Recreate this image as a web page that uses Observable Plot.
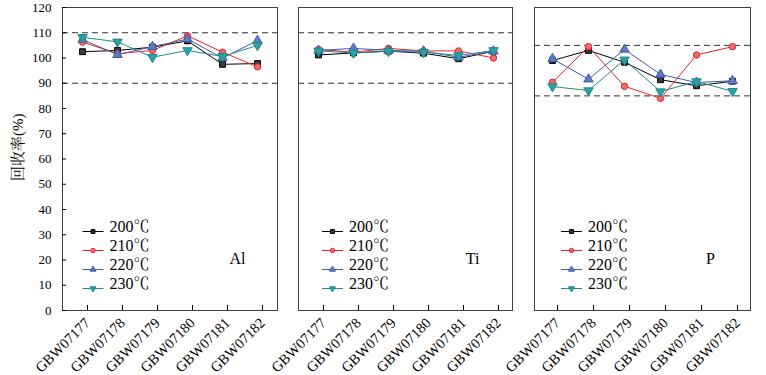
<!DOCTYPE html>
<html><head><meta charset="utf-8">
<script src="https://cdn.jsdelivr.net/npm/d3@7"></script>
<script src="https://cdn.jsdelivr.net/npm/@observablehq/plot@0.6"></script>
<style>
body{margin:0;background:#fff}
#c{position:relative;width:766px;height:375px;background:#fff}
#c svg{position:absolute;left:0;top:0;background:transparent !important;overflow:visible}
</style></head><body><div id="c"></div>
<script>
const samples = ["GBW07177","GBW07178","GBW07179","GBW07180","GBW07181","GBW07182"];
const temps = ["200℃","210℃","220℃","230℃"];
const yTicks = [0,10,20,30,40,50,60,70,80,90,100,110,120];
const yLabel = "回收率(%)";

const al200 = [102.5, 103.0, 104.3, 106.8, 97.5, 97.8];
const al210 = [106.3, 101.7, 103.0, 108.8, 102.3, 96.5];
const al220 = [107.3, 101.3, 104.5, 107.5, 100.0, 106.9];
const al230 = [108.2, 106.4, 100.3, 103.0, 100.6, 105.0];

const ti200 = [101.2, 102.0, 102.7, 101.9, 99.7, 102.7];
const ti210 = [103.4, 102.3, 103.8, 102.8, 102.8, 100.0];
const ti220 = [103.0, 103.8, 103.0, 102.7, 100.3, 102.7];
const ti230 = [102.8, 102.0, 102.7, 102.3, 101.0, 103.0];

const p200 = [99.0, 103.0, 98.3, 91.4, 89.0, 90.8];
const p210 = [90.4, 104.5, 88.8, 84.0, 101.2, 104.5];
const p220 = [99.7, 91.6, 103.4, 93.5, 90.3, 91.0];
const p230 = [88.7, 87.1, 99.3, 86.7, 90.7, 86.8];

const alLimits = [90, 110];
const tiLimits = [90, 110];
const pLimits = [85, 105];

const triDown = {draw(ctx, size){const y = -Math.sqrt(size/(Math.sqrt(3)*3)); ctx.moveTo(0,-2*y); ctx.lineTo(-Math.sqrt(3)*y, y); ctx.lineTo(Math.sqrt(3)*y, y); ctx.closePath();}};
const legLine = {draw(ctx){ctx.moveTo(-10.5,0); ctx.lineTo(10.5,0);}};

const styles = [
  {stroke:"#000000", fill:"#3a3a3a", symbol:"square", r:3.3},
  {stroke:"#e8262a", fill:"#f06a6a", symbol:"circle", r:3.2},
  {stroke:"#3f5ca8", fill:"#5f7cc0", symbol:"triangle", r:3.5},
  {stroke:"#1e8c8c", fill:"#2fa0a0", symbol:triDown, r:3.5}
];

const FONT = "Liberation Serif, Times New Roman, Noto Serif CJK SC, Noto Sans CJK SC, serif";

function panel({left, right, series, limits, name, showY, legDx}) {
  const marks = [];
  marks.push(Plot.ruleY(limits, {stroke:"#333", strokeWidth:1, strokeDasharray:"6,4"}));
  series.forEach((vals, i) => {
    const data = samples.map((s, j) => ({sample:s, value:vals[j]}));
    const st = styles[i];
    marks.push(Plot.line(data, {x:"sample", y:"value", stroke:st.stroke, strokeWidth:1}));
    marks.push(Plot.dot(data, {x:"sample", y:"value", symbol:st.symbol, r:st.r, fill:st.fill, stroke:st.stroke, strokeWidth:1}));
    // legend
    marks.push(Plot.dot([temps[i]], {frameAnchor:"bottom-left", dx:legDx, dy:-79 + 19*i, symbol:legLine, r:3, fill:"none", stroke:st.stroke, strokeWidth:1}));
    marks.push(Plot.dot([temps[i]], {frameAnchor:"bottom-left", dx:legDx, dy:-79 + 19*i, symbol:st.symbol, r:2.2, fill:st.fill, stroke:st.stroke, strokeWidth:1}));
    marks.push(Plot.text([temps[i]], {text:d=>d, frameAnchor:"bottom-left", dx:legDx + 16.5, dy:-79 + 19*i, textAnchor:"start", fontSize:16, fill:"#000"}));
  });
  marks.push(Plot.text([name], {text:d=>d, frameAnchor:"bottom-right", dx:-40, dy:-47, textAnchor:"middle", fontSize:16, fill:"#000"}));
  marks.push(Plot.frame({stroke:"#404040", strokeWidth:1}));
  if (showY) {
    marks.push(Plot.axisY(yTicks, {tickSize:-4, tickPadding:15, fontSize:13, label:null}));
    marks.push(Plot.text([yLabel], {text:d=>d, frameAnchor:"left", dx:-44, dy:22, rotate:-90, fontSize:15, fill:"#000"}));
  }
  marks.push(Plot.axisX({tickSize:-5, tickPadding:15, dx:5, tickRotate:-45, fontSize:14.5, label:null}));
  return Plot.plot({
    width:766, height:375,
    marginLeft:left, marginRight:766-right, marginTop:7, marginBottom:65,
    style:{fontFamily:FONT, fontSize:"13px", color:"#000", background:"transparent", overflow:"visible"},
    x:{type:"point", domain:samples, padding:0.5},
    y:{domain:[0,120], axis: showY ? undefined : null},
    marks
  });
}

const c = document.getElementById("c");
c.append(panel({left:62, right:277, series:[al200,al210,al220,al230], limits:alLimits, name:"Al", showY:true, legDx:30.5}));
c.append(panel({left:298, right:512, series:[ti200,ti210,ti220,ti230], limits:tiLimits, name:"Ti", showY:false, legDx:34}));
c.append(panel({left:534, right:750, series:[p200,p210,p220,p230], limits:pLimits, name:"P", showY:false, legDx:37}));
</script></body></html>
